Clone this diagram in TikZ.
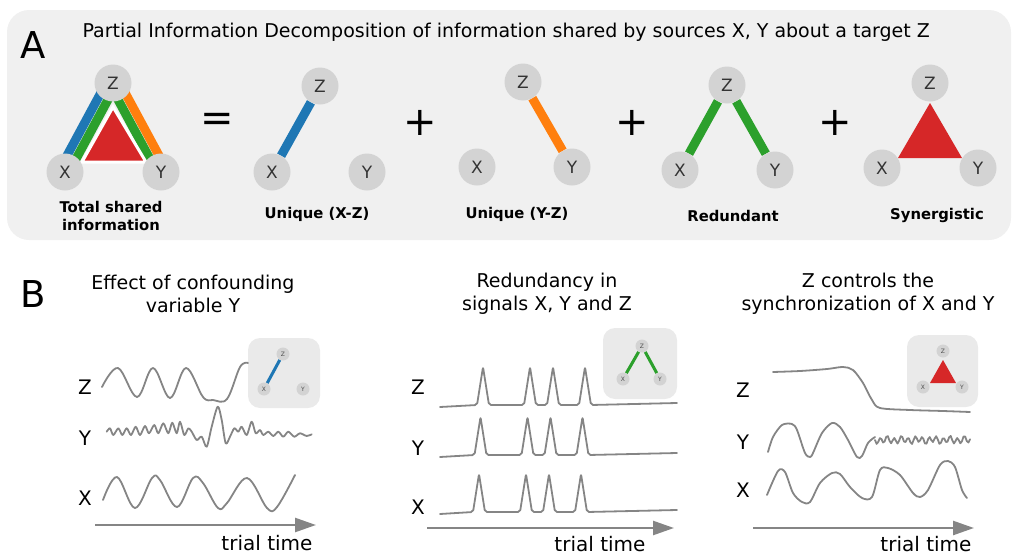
\documentclass[tikz,border=0pt]{standalone}
\usepackage{fontspec}
\setmainfont{DejaVu Sans}
\usepackage{tikz}
\usetikzlibrary{arrows.meta}
\usetikzlibrary{calc}
\definecolor{tabblue}{HTML}{1F77B4}
\definecolor{taborange}{HTML}{FF7F0E}
\definecolor{tabgreen}{HTML}{2CA02C}
\definecolor{tabred}{HTML}{D62728}
\definecolor{panelbg}{HTML}{F0F0F0}
\definecolor{insetbg}{HTML}{EAEAEA}
\definecolor{vgray}{HTML}{D3D3D3}
\definecolor{tracegray}{HTML}{858585}
\pgfdeclarelayer{back}
\pgfsetlayers{back,main}
\tikzset{vertex/.style = {circle, fill=vgray, text=black!80, inner sep=0,
                          minimum size=37, font=\fontsize{17}{19}\selectfont}}
\tikzset{tinyvertex/.style = {circle, fill=vgray, text=black!70, inner sep=0,
                              minimum size=13, font=\fontsize{6}{7}\selectfont}}
\tikzset{band/.style = {line width=9}}
\tikzset{tinyband/.style = {line width=3}}
\tikzset{caption/.style = {font=\fontsize{14.8}{18}\selectfont\bfseries, align=center}}
\tikzset{opsign/.style = {font=\fontsize{40}{40}\selectfont}}
\tikzset{bigletter/.style = {font=\fontsize{37}{40}\selectfont}}
\tikzset{heading/.style = {font=\fontsize{19}{23}\selectfont, align=center}}
\tikzset{rowlabel/.style = {font=\fontsize{20}{22}\selectfont}}
\tikzset{trace/.style = {draw=tracegray, line width=1.8, line join=round, line cap=round}}
\tikzset{timearrow/.style = {draw=tracegray, line width=2.5,
                             -{Triangle[length=21pt, width=14pt]}}}
\tikzset{inset/.style = {fill=insetbg, rounded corners=12}}

\begin{document}
\begin{tikzpicture}[x=1pt, y=-1pt]
    \useasboundingbox (0,0) rectangle (1013,557);

    % panel A
    \begin{pgfonlayer}{back}
        \fill [panelbg, rounded corners=22] (7,10) rectangle (1011,240);
    \end{pgfonlayer}
    \node [bigletter] (lettera) at (33,45) {A};
    \node [anchor=west, font=\fontsize{19}{21}\selectfont] (titlea) at (79,32)
        {Partial Information Decomposition of information shared by sources X, Y about a target Z};

    % total shared information
    \node [vertex] (tz) at (113,83) {Z};
    \node [vertex] (tx) at (65,172) {X};
    \node [vertex] (ty) at (161,172) {Y};
    \begin{pgfonlayer}{back}
        \draw [band, tabblue] ($(tz.center)!6pt!-90:(tx.center)$) -- ($(tx.center)!6pt!90:(tz.center)$);
        \draw [band, tabgreen] ($(tz.center)!3.5pt!90:(tx.center)$) -- ($(tx.center)!3.5pt!-90:(tz.center)$);
        \draw [band, taborange] ($(tz.center)!6pt!90:(ty.center)$) -- ($(ty.center)!6pt!-90:(tz.center)$);
        \draw [band, tabgreen] ($(tz.center)!3.5pt!-90:(ty.center)$) -- ($(ty.center)!3.5pt!90:(tz.center)$);
        \filldraw [fill=tabred, draw=white, line width=3] (113,107) -- (82,162) -- (146,162) -- cycle;
    \end{pgfonlayer}
    \node [caption] (captotal) at (111,216) {Total shared\\information};

    \node [opsign] (eq) at (217,122) {=};

    % unique X-Z
    \node [vertex] (uaz) at (320,86) {Z};
    \node [vertex] (uax) at (272,172) {X};
    \node [vertex] (uay) at (367,172) {Y};
    \begin{pgfonlayer}{back}
        \draw [band, tabblue] (uax) -- (uaz);
    \end{pgfonlayer}
    \node [caption] (capxz) at (317,214) {Unique (X-Z)};

    \node [opsign] (plusa) at (420,123) {+};

    % unique Y-Z
    \node [vertex] (ubz) at (523,82) {Z};
    \node [vertex] (ubx) at (477,167) {X};
    \node [vertex] (uby) at (572,167) {Y};
    \begin{pgfonlayer}{back}
        \draw [band, taborange] (uby) -- (ubz);
    \end{pgfonlayer}
    \node [caption] (capyz) at (517,214) {Unique (Y-Z)};

    \node [opsign] (plusb) at (632,123) {+};

    % redundant
    \node [vertex] (rz) at (727,85) {Z};
    \node [vertex] (rx) at (680,170) {X};
    \node [vertex] (ry) at (775,170) {Y};
    \begin{pgfonlayer}{back}
        \draw [band, tabgreen] (rx) -- (rz);
        \draw [band, tabgreen] (ry) -- (rz);
    \end{pgfonlayer}
    \node [caption] (capred) at (733,216) {Redundant};

    \node [opsign] (plusc) at (835,123) {+};

    % synergistic
    \node [vertex] (sz) at (930,83) {Z};
    \node [vertex] (sx) at (882,168) {X};
    \node [vertex] (sy) at (978,168) {Y};
    \begin{pgfonlayer}{back}
        \fill [tabred] (930,103) -- (898,158) -- (962,158) -- cycle;
    \end{pgfonlayer}
    \node [caption] (capsyn) at (937,215) {Synergistic};

    % panel B
    \node [bigletter] (letterb) at (33,294) {B};

    % confounding
    \node [heading] (headc) at (193,294) {Effect of confounding\\variable Y};
    \node [rowlabel] (cz) at (85,387) {Z};
    \node [rowlabel] (cy) at (85,438) {Y};
    \node [rowlabel] (cx) at (85,498) {X};
    \draw [trace] plot [smooth, tension=0.6] coordinates {(102,387) (118,368) (137,397) (153,368)
        (170,398) (186,368) (203,397) (213,400) (227,399) (240,367) (248,363)};
    \draw [trace] plot [smooth, tension=0.5] coordinates {(106.7,431.7) (110,428.3) (113.3,435)
        (118.3,428.3) (122.3,435) (126.7,428.3) (131,435) (135.7,426.7) (140,435) (145,426)
        (149,433.3) (154.3,425) (158.3,433.3) (163.3,423.3) (168.3,433.3) (172.3,422.7)
        (176.7,433.3) (180,421.7) (184.3,435) (188.3,428.3) (191.7,431.7) (196.7,440)
        (201.7,436.7) (206.7,446.7) (211.7,426.7) (217.7,406.7) (221.7,420) (225.7,443.3)
        (230,436.7) (234.3,428.3) (238.3,431.7) (241.7,426.7) (246.7,435) (251.7,421.7)
        (255.7,433.3) (260,430) (263.3,435) (268.3,431.7) (273.3,436) (278.3,431.7)
        (283.3,436.7) (288.3,431.7) (294.3,436.7) (300,433.3) (306.7,436) (311.7,434.3)};
    \draw [trace] plot [smooth, tension=0.6] coordinates {(103,500) (117,477) (135,508) (152,478)
        (160,480) (177,507) (193,478) (203,483) (218,508) (227,503) (247,478) (267,508)
        (277,507) (295,475)};
    \node [tinyvertex] (icz) at (283,354) {Z};
    \node [tinyvertex] (icx) at (264,389) {X};
    \node [tinyvertex] (icy) at (303,389) {Y};
    \begin{pgfonlayer}{back}
        \fill [inset] (248,338) rectangle (320,408);
        \draw [tinyband, tabblue] (icx) -- (icz);
    \end{pgfonlayer}
    \coordinate (cstart) at (95,525);
    \coordinate (cend) at (316,525);
    \draw [timearrow] (cstart) -- (cend);
    \node [rowlabel, anchor=east] (ctime) at (316,543) {trial time};

    % redundancy
    \node [heading] (headr) at (547,294) {Redundancy in\\signals X, Y and Z};
    \node [rowlabel] (rlz) at (418,387) {Z};
    \node [rowlabel] (rly) at (418,448) {Y};
    \node [rowlabel] (rlx) at (418,507) {X};
    \foreach \b/\d in {405/0, 455/-2.5, 512/-4}
        \draw [trace, rounded corners=2] (440,\b+2)
            foreach \s in {483,530,553,585} { -- (\s+\d-6,\b) -- (\s+\d,\b-38) -- (\s+\d+6,\b) }
            -- (677,\b-2);
    \node [tinyvertex] (irz) at (642,346) {Z};
    \node [tinyvertex] (irx) at (623,379) {X};
    \node [tinyvertex] (iry) at (660,379) {Y};
    \begin{pgfonlayer}{back}
        \fill [inset] (603,328) rectangle (677,399);
        \draw [tinyband, tabgreen] (irx) -- (irz);
        \draw [tinyband, tabgreen] (iry) -- (irz);
    \end{pgfonlayer}
    \coordinate (rstart) at (427,528);
    \coordinate (rend) at (674,528);
    \draw [timearrow] (rstart) -- (rend);
    \node [rowlabel, anchor=east] (rtime) at (649,544) {trial time};

    % synchronization
    \node [heading] (heads) at (868,294) {Z controls the\\synchronization of X and Y};
    \node [rowlabel] (slz) at (743,390) {Z};
    \node [rowlabel] (sly) at (743,442) {Y};
    \node [rowlabel] (slx) at (743,490) {X};
    \draw [trace] plot [smooth, tension=0.5] coordinates {(773,372) (800,371) (827,369) (843,367)
        (853,370) (863,383) (872,400) (880,408) (910,410) (943,411) (970,412)};
    \draw [trace] plot [smooth, tension=0.5] coordinates {(768,452) (773,437) (782,425) (792,424)
        (797,430) (805,453) (810,457) (813,453) (822,433) (832,423) (840,427) (848,440)
        (857,457) (862,456) (868,443) (875,437)};
    \draw [trace] plot [domain=0:95, samples=60]
        (875+\x, {440 + 3.2*sin(51.4*\x) + 1.2*sin(23*\x)});
    \draw [trace] plot [smooth, tension=0.5] coordinates {(767,495) (778,471) (785,472) (793,493)
        (802,502) (810,502) (820,483) (832,473) (840,474) (850,487) (862,498) (872,497)
        (880,470) (888,468) (900,475) (913,493) (920,497) (928,490) (940,465) (948,461)
        (955,467) (962,490) (967,498)};
    \node [tinyvertex] (isz) at (943,351) {Z};
    \node [tinyvertex] (isx) at (923,387) {X};
    \node [tinyvertex] (isy) at (962,387) {Y};
    \begin{pgfonlayer}{back}
        \fill [inset] (907,335) rectangle (978,407);
        \fill [tabred] (943,360) -- (930,383) -- (956,383) -- cycle;
    \end{pgfonlayer}
    \coordinate (sstart) at (753,528);
    \coordinate (send) at (974,528);
    \draw [timearrow] (sstart) -- (send);
    \node [rowlabel, anchor=east] (stime) at (975,544) {trial time};
\end{tikzpicture}
\end{document}
